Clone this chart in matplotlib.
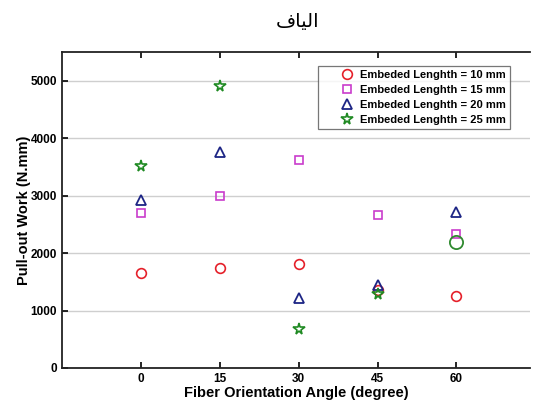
import matplotlib
matplotlib.use("Agg")
import matplotlib.pyplot as plt

# data
angles = [0, 15, 30, 45, 60]
work_10mm = [1650, 1745, 1810, 1360, 1255]
work_15mm = [2690, 2995, 3620, 2660, 2330]
work_20mm = [2930, 3755, 1220, 1450, 2710]
work_25mm = [3515, 4905, 680, 1285]     # no star at 60 deg
extra_angle = [60]                       # lone green circle
extra_work = [2190]

legend_labels = ["Embeded Lenghth = 10 mm", "Embeded Lenghth = 15 mm",
                 "Embeded Lenghth = 20 mm", "Embeded Lenghth = 25 mm"]
title_txt = "\uFED1\uFE8E\uFEF4\uFEDF\uFE8D"   # "الياف" in presentation forms, visual order

plt.rcParams['font.family'] = ['Liberation Sans', 'DejaVu Sans']

fig = plt.figure(figsize=(5.34, 4.01), dpi=100)
ax = fig.add_axes([62/534, 1-368/401, (530-62)/534, (368-52)/401])

ax.plot(angles, work_10mm, 'o', ms=7, mfc='none', mec='#e5202a', mew=1.2, label=legend_labels[0])
ax.plot(angles, work_15mm, 's', ms=5.8, mfc='none', mec='#c93ccc', mew=1.2, label=legend_labels[1])
ax.plot(angles, work_20mm, '^', ms=7, mfc='none', mec='#1d2585', mew=1.3, label=legend_labels[2])
ax.plot(angles[:4], work_25mm, '*', ms=8.5, mfc='none', mec='#1f8a22', mew=1.2, label=legend_labels[3])
ax.plot(extra_angle, extra_work, 'o', ms=9.5, mfc='none', mec='#2f8a2f', mew=1.3)

ax.set_xlim(-15, 74)
ax.set_ylim(0, 5500)
ax.set_xticks(angles)
ax.set_yticks([0, 1000, 2000, 3000, 4000, 5000])
ax.yaxis.grid(True, color='#cfcfcf', lw=1)
ax.set_axisbelow(True)
ax.tick_params(direction='in', top=True, length=4, width=1.2, labelsize=8.5)
for lab in ax.get_xticklabels() + ax.get_yticklabels():
    lab.set_fontweight('bold')
for s in ['left', 'bottom', 'top']:
    ax.spines[s].set_linewidth(1.3)
    ax.spines[s].set_color('#222222')
ax.spines['right'].set_visible(False)

ax.set_xlabel("Fiber Orientation Angle (degree)", fontsize=10.5, fontweight='bold', labelpad=1)
ax.set_ylabel("Pull-out Work (N.mm)", fontsize=10.5, fontweight='bold', labelpad=0)

leg = ax.legend(loc='upper right', bbox_to_anchor=(0.957, 0.956), borderaxespad=0,
                fontsize=8, frameon=True, fancybox=False, edgecolor='#555555',
                borderpad=0.35, labelspacing=0.45, handletextpad=-1.1, handlelength=4.5)
leg.get_frame().set_linewidth(0.9)
for t in leg.get_texts():
    t.set_fontweight('bold')

fig.text(298/534, 1-22/401, title_txt, ha='center', va='center', fontsize=14,
         family=['DejaVu Sans'])

fig.savefig("out.png", dpi=100)
